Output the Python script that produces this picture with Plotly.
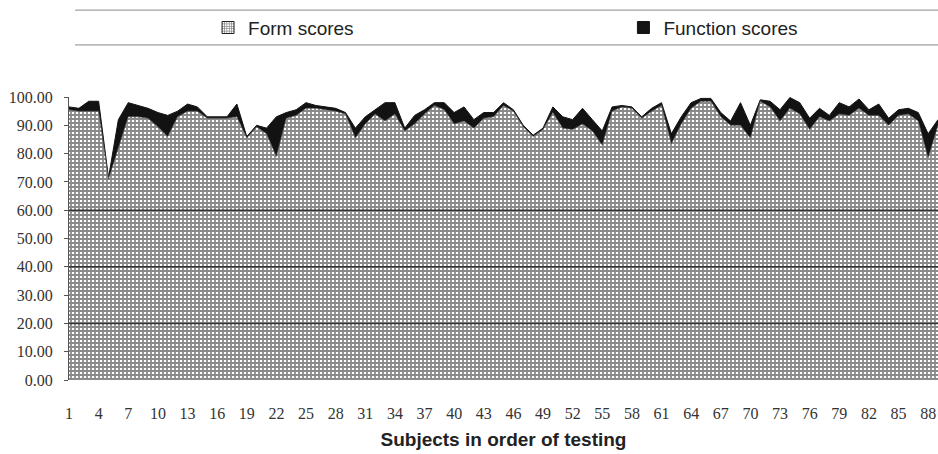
import plotly.graph_objects as go

# Subject number (order of testing)
subjects = list(range(1, 90))

# Scores per subject
function_scores = [
    96.5, 96, 98.5, 98.5, 71.5, 92, 98, 97, 96, 94.5,
    93.5, 95, 97.5, 96.5, 93, 93, 93, 97.5, 86, 90,
    89, 93, 94.5, 95.5, 98, 97, 96.5, 96, 94.5, 89,
    93, 95.5, 98, 98, 89, 93.5, 95.5, 98, 98, 94.5,
    96.5, 92, 94.5, 94.5, 98, 95.5, 90, 86.5, 89, 96.5,
    93, 92, 96, 92, 88, 96.5, 97, 96.5, 93, 96,
    98, 87, 93, 98, 99.5, 99.5, 94.5, 91.5, 98, 90,
    99, 98.5, 95.5, 99.8, 98, 92.5, 96, 93.5, 98, 96.5,
    99.3, 95.5, 97.5, 92.5, 95.5, 96, 94.5, 87, 92,
]
form_scores = [
    95.5, 95, 95, 95, 71, 82, 93, 93, 92.5, 89.5,
    86, 93, 95, 95, 92.5, 92.5, 92.5, 93, 85.5, 89.5,
    87, 79, 92.5, 93.5, 96, 96, 95.5, 95, 94, 85.5,
    90.5, 94, 91.5, 94, 88, 90.5, 94, 97, 95.5, 90.5,
    91.5, 89, 92.5, 93, 97, 95, 89.5, 86, 88.5, 94.5,
    89, 88.5, 90.5, 88, 83, 95, 96.5, 96, 92.5, 95,
    97, 83.5, 90.5, 96, 98.5, 98.5, 93, 90, 90, 85.5,
    98.5, 96.5, 91.5, 96, 94, 88.5, 93, 91.5, 94, 93.5,
    96, 93.5, 93.5, 90, 93.5, 94, 91.5, 78.5, 90,
]

x_ticks = list(range(1, 90, 3))
y_ticks = list(range(0, 101, 10))

grid_pattern = dict(shape="+", size=4, solidity=0.7,
                    fgcolor="#161616", bgcolor="#ffffff")

fig = go.Figure()

# Function scores: solid black area behind
fig.add_trace(go.Scatter(
    x=subjects, y=function_scores, name="Function scores",
    mode="lines", fill="tozeroy", fillcolor="#121212",
    line=dict(color="#121212", width=1), showlegend=False,
))
# Form scores: grid-patterned area in front
fig.add_trace(go.Scatter(
    x=subjects, y=form_scores, name="Form scores",
    mode="lines", fill="tozeroy", fillcolor="#ffffff",
    fillpattern=grid_pattern,
    line=dict(color="#555555", width=0.6), showlegend=False,
))

# Square legend keys, one legend box per entry
fig.add_trace(go.Bar(
    x=[None], y=[None], name="Form scores", legend="legend",
    marker=dict(color="#ffffff", pattern=dict(shape="+", size=3, solidity=0.55,
                                              fgcolor="#222", bgcolor="#ffffff"),
                line=dict(color="#222", width=1)),
))
fig.add_trace(go.Bar(
    x=[None], y=[None], name="Function scores", legend="legend2",
    marker=dict(color="#151515", line=dict(color="#151515", width=1)),
))

# Darker horizontal rules across the filled area
for level in (20, 40, 60):
    fig.add_shape(type="line", xref="paper", yref="y", x0=0, x1=1,
                  y0=level, y1=level, layer="above",
                  line=dict(color="rgba(30,30,30,0.8)", width=1.5))

# Legend frame lines
for yp in (1.307, 1.184):
    fig.add_shape(type="line", xref="paper", yref="paper", x0=0.007, x1=1,
                  y0=yp, y1=yp, line=dict(color="#8a8a8a", width=1))

serif = "Liberation Serif"
sans = "Liberation Sans"

legend_style = dict(orientation="h", xanchor="left", y=1.245, yanchor="middle",
                    font=dict(family=sans, size=19, color="#222"),
                    bgcolor="rgba(0,0,0,0)", borderwidth=0)

fig.update_layout(
    width=938, height=454,
    margin=dict(l=69, r=0, t=97, b=74),
    paper_bgcolor="white", plot_bgcolor="white",
    showlegend=True,
    legend=dict(x=0.16, **legend_style),
    legend2=dict(x=0.638, **legend_style),
    xaxis=dict(
        range=[1, 89], tickmode="array", tickvals=x_ticks,
        ticktext=[str(v) for v in x_ticks],
        showgrid=False, zeroline=False, showline=False, ticks="",
        ticklabelstandoff=22,
        tickfont=dict(family=serif, size=16, color="#333"),
        title=dict(text="<b>Subjects in order of testing</b>",
                   font=dict(family=sans, size=19, color="#222"), standoff=11),
    ),
    yaxis=dict(
        range=[0, 100], tickmode="array", tickvals=y_ticks, tickformat=".2f",
        showgrid=False, zeroline=False, showline=True, linecolor="#555", linewidth=1,
        ticks="outside", ticklen=4, tickcolor="#555",
        ticklabelstandoff=8,
        tickfont=dict(family=serif, size=16, color="#333"),
    ),
    barmode="overlay",
)

fig.write_html("out.html")
